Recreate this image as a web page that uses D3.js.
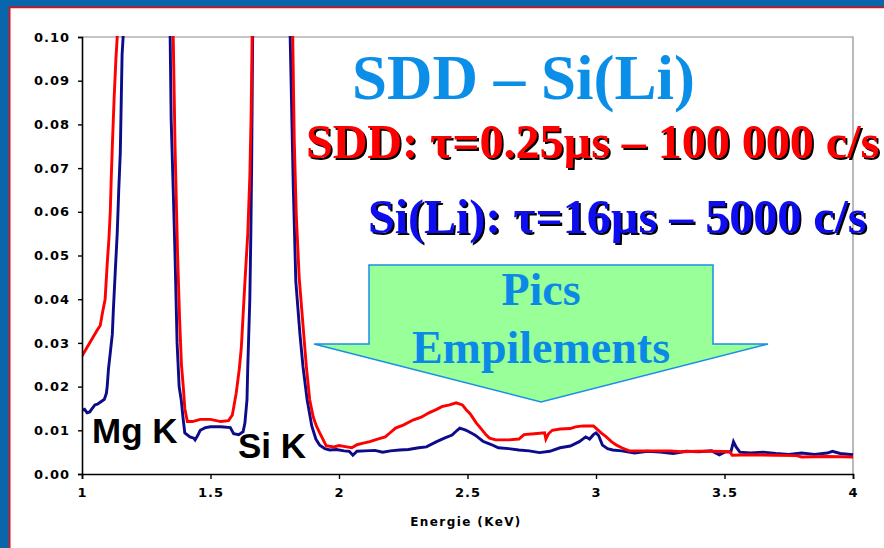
<!DOCTYPE html>
<html>
<head>
<meta charset="utf-8">
<script src="https://cdn.jsdelivr.net/npm/d3@7"></script>
<style>
  body { margin: 0; background: #fff; }
  svg { display: block; }
</style>
</head>
<body>
<div id="chart"></div>
<script>
// SDD spectrum (red), energy in keV / normalised counts
const sddE = [1.000, 1.020, 1.040, 1.060, 1.071, 1.080, 1.090, 1.098, 1.105, 1.110, 1.114, 1.118, 1.125, 1.132, 1.137,
  1.200, 1.250, 1.300, 1.355, 1.362, 1.368, 1.372, 1.380, 1.387, 1.394, 1.400, 1.410, 1.430, 1.460, 1.500, 1.540, 1.570,
  1.585, 1.600, 1.612, 1.620, 1.634, 1.645, 1.653, 1.658, 1.662, 1.740, 1.820, 1.826, 1.834, 1.845, 1.860, 1.873, 1.886,
  1.900, 1.912, 1.925, 1.950, 1.980, 2.000, 2.030, 2.050, 2.070, 2.090, 2.120, 2.150, 2.180, 2.200, 2.220, 2.250, 2.290,
  2.320, 2.350, 2.380, 2.400, 2.430, 2.456, 2.480, 2.495, 2.510, 2.534, 2.547, 2.573, 2.586, 2.610, 2.660, 2.700, 2.720,
  2.760, 2.800, 2.805, 2.815, 2.830, 2.860, 2.900, 2.920, 2.950, 2.990, 3.005, 3.020, 3.040, 3.060, 3.080, 3.100, 3.130,
  3.200, 3.290, 3.330, 3.400, 3.450, 3.520, 3.530, 3.600, 3.700, 3.780, 3.800, 3.900, 4.000];
const sddV = [0.027, 0.029, 0.031, 0.033, 0.034, 0.037, 0.040, 0.048, 0.054, 0.060, 0.068, 0.075, 0.086, 0.095, 0.100,
  0.300, 0.400, 0.250, 0.100, 0.075, 0.060, 0.050, 0.035, 0.025, 0.020, 0.015, 0.012, 0.0120, 0.0125, 0.0125, 0.0120, 0.0122,
  0.0135, 0.0185, 0.024, 0.029, 0.044, 0.055, 0.068, 0.082, 0.100, 0.500, 0.100, 0.076, 0.059, 0.045, 0.034, 0.0245, 0.017,
  0.013, 0.011, 0.0094, 0.0065, 0.0062, 0.0065, 0.0062, 0.0060, 0.0067, 0.0070, 0.0074, 0.0080, 0.0085, 0.0095, 0.0105, 0.0112, 0.0124,
  0.0130, 0.0140, 0.0148, 0.0154, 0.0158, 0.0163, 0.0158, 0.0147, 0.0138, 0.0117, 0.0108, 0.0089, 0.0082, 0.0078, 0.0078, 0.0080, 0.0090,
  0.0092, 0.0094, 0.0080, 0.0092, 0.0100, 0.0103, 0.0104, 0.0108, 0.0110, 0.0110, 0.0102, 0.0094, 0.0085, 0.0074, 0.0066, 0.0060, 0.0053,
  0.0053, 0.0053, 0.0051, 0.0052, 0.0052, 0.0051, 0.0043, 0.0044, 0.0043, 0.0042, 0.0039, 0.0040, 0.0039];

// Si(Li) spectrum (navy)
const siliE = [1.000, 1.010, 1.020, 1.030, 1.040, 1.050, 1.060, 1.075, 1.087, 1.095, 1.098, 1.103, 1.110, 1.118, 1.122,
  1.130, 1.137, 1.143, 1.149, 1.156, 1.160, 1.250, 1.343, 1.347, 1.355, 1.362, 1.370, 1.378, 1.386, 1.394, 1.400, 1.420,
  1.435, 1.440, 1.450, 1.460, 1.480, 1.500, 1.540, 1.577, 1.590, 1.610, 1.627, 1.634, 1.642, 1.645, 1.653, 1.657, 1.660,
  1.664, 1.740, 1.810, 1.815, 1.822, 1.832, 1.848, 1.860, 1.876, 1.894, 1.910, 1.925, 1.945, 1.964, 1.990, 2.020, 2.040,
  2.054, 2.070, 2.100, 2.140, 2.170, 2.200, 2.236, 2.270, 2.310, 2.340, 2.380, 2.410, 2.440, 2.460, 2.470, 2.485, 2.495,
  2.520, 2.530, 2.560, 2.590, 2.620, 2.660, 2.700, 2.740, 2.780, 2.820, 2.860, 2.900, 2.935, 2.960, 2.975, 2.990, 3.000,
  3.010, 3.025, 3.045, 3.065, 3.100, 3.150, 3.200, 3.250, 3.300, 3.350, 3.400, 3.450, 3.480, 3.500, 3.525, 3.535, 3.545,
  3.560, 3.600, 3.650, 3.700, 3.750, 3.800, 3.850, 3.900, 3.920, 3.950, 4.000];
const siliV = [0.0146, 0.0148, 0.0140, 0.0142, 0.0150, 0.0158, 0.0160, 0.0166, 0.0171, 0.0185, 0.020, 0.024, 0.0277, 0.032, 0.0375,
  0.047, 0.055, 0.065, 0.0735, 0.096, 0.100, 0.350, 0.100, 0.081, 0.065, 0.050, 0.030, 0.020, 0.017, 0.0124, 0.0094, 0.0085,
  0.0082, 0.0078, 0.0088, 0.0100, 0.0106, 0.0108, 0.0108, 0.0106, 0.0092, 0.0090, 0.0097, 0.0117, 0.017, 0.0245, 0.040, 0.055, 0.070,
  0.100, 0.450, 0.100, 0.086, 0.066, 0.044, 0.032, 0.0245, 0.017, 0.011, 0.0080, 0.0066, 0.0058, 0.0055, 0.0056, 0.0053, 0.0052,
  0.0043, 0.0052, 0.0053, 0.0054, 0.0050, 0.0053, 0.0055, 0.0056, 0.0060, 0.0062, 0.0074, 0.0082, 0.0089, 0.0100, 0.0105, 0.0102, 0.0100,
  0.0092, 0.0089, 0.0075, 0.0068, 0.0060, 0.0058, 0.0055, 0.0053, 0.0049, 0.0052, 0.0060, 0.0064, 0.0074, 0.0085, 0.0080, 0.0090, 0.0094,
  0.0088, 0.0066, 0.0058, 0.0055, 0.0053, 0.0048, 0.0052, 0.0050, 0.0047, 0.0052, 0.0051, 0.0053, 0.0044, 0.0050, 0.0051, 0.0074, 0.0062,
  0.0050, 0.0048, 0.0050, 0.0047, 0.0045, 0.0048, 0.0045, 0.0048, 0.0052, 0.0047, 0.0044];

const xTicks = [1, 1.5, 2, 2.5, 3, 3.5, 4];
const yTicks = [0, 0.01, 0.02, 0.03, 0.04, 0.05, 0.06, 0.07, 0.08, 0.09, 0.10];

const width = 884, height = 548;
const plot = { left: 82, right: 853, top: 37, bottom: 474 };

const x = d3.scaleLinear().domain([1, 4]).range([plot.left, plot.right]);
const y = d3.scaleLinear().domain([0, 0.1]).range([plot.bottom, plot.top]);

const svg = d3.select('#chart')
  .append('svg')
  .attr('width', width)
  .attr('height', height);

const defs = svg.append('defs');
const shadow = defs.append('filter').attr('id', 'shadow')
  .attr('x', '-5%').attr('y', '-20%').attr('width', '115%').attr('height', '150%');
shadow.append('feFlood').attr('flood-color', '#000').attr('result', 'ink');
shadow.append('feComposite').attr('in', 'ink').attr('in2', 'SourceAlpha').attr('operator', 'in').attr('result', 'dark');
shadow.append('feOffset').attr('in', 'dark').attr('dx', 2).attr('dy', 2).attr('result', 'off');
const merge = shadow.append('feMerge');
merge.append('feMergeNode').attr('in', 'off');
merge.append('feMergeNode').attr('in', 'SourceGraphic');

// slide frame
svg.append('rect').attr('width', width).attr('height', height).attr('fill', '#fff');
svg.append('rect').attr('x', 0).attr('y', 0).attr('width', width).attr('height', 7).attr('fill', '#0a66aa');
svg.append('rect').attr('x', 0).attr('y', 0).attr('width', 9).attr('height', height).attr('fill', '#0a66aa');
svg.append('line').attr('x1', 9).attr('x2', width).attr('y1', 7.5).attr('y2', 7.5).attr('stroke', '#ff0000').attr('stroke-width', 1.5);
svg.append('line').attr('x1', 9.75).attr('x2', 9.75).attr('y1', 7).attr('y2', height).attr('stroke', '#ff0000').attr('stroke-width', 1.5);

// plot box (top/right grey)
svg.append('path')
  .attr('d', `M${plot.left},${plot.top}H${plot.right}V${plot.bottom}`)
  .attr('fill', 'none').attr('stroke', '#8c8c8c').attr('stroke-width', 1.2);

defs.append('clipPath').attr('id', 'clip')
  .append('rect')
  .attr('x', plot.left).attr('y', plot.top - 1)
  .attr('width', plot.right - plot.left + 1).attr('height', plot.bottom - plot.top);

const line = d3.line()
  .x(d => x(d[0]))
  .y(d => y(d[1]));

const series = [
  { e: siliE, v: siliV, color: '#0c0c8a' },
  { e: sddE, v: sddV, color: '#ff0000' }
];

const lines = svg.append('g').attr('clip-path', 'url(#clip)');
series.forEach(s => {
  lines.append('path')
    .datum(d3.zip(s.e, s.v))
    .attr('fill', 'none')
    .attr('stroke', s.color)
    .attr('stroke-width', 2.9)
    .attr('d', line);
});

// axes
const tickFont = 'DejaVu Sans, Verdana, sans-serif';

const yAxis = svg.append('g')
  .attr('transform', `translate(${plot.left},0)`)
  .call(d3.axisLeft(y).tickValues(yTicks).tickFormat(d3.format('.2f')).tickSize(4).tickPadding(8));
const xAxis = svg.append('g')
  .attr('transform', `translate(0,${plot.bottom})`)
  .call(d3.axisBottom(x).tickValues(xTicks).tickFormat(d => d).tickSize(5).tickPadding(9));

[yAxis, xAxis].forEach(a => {
  a.select('.domain').attr('stroke', '#000').attr('stroke-width', 1.6);
  a.selectAll('.tick line').attr('stroke', '#000').attr('stroke-width', 1.4);
  a.selectAll('.tick text')
    .attr('fill', '#000')
    .style('font-family', tickFont)
    .style('font-weight', 'bold')
    .style('font-size', '13px')
    .style('letter-spacing', '1px');
});

svg.append('text')
  .attr('x', 466).attr('y', 526)
  .attr('text-anchor', 'middle')
  .style('font-family', tickFont)
  .style('font-weight', 'bold')
  .style('font-size', '12px')
  .style('letter-spacing', '1.4px')
  .attr('fill', '#000')
  .text('Energie (KeV)');

// peak labels
const sans = 'Liberation Sans, Arial, sans-serif';
svg.append('text').attr('x', 92).attr('y', 443)
  .style('font-family', sans).style('font-weight', 'bold').style('font-size', '35px')
  .attr('fill', '#000').text('Mg K');
svg.append('text').attr('x', 238).attr('y', 458)
  .style('font-family', sans).style('font-weight', 'bold').style('font-size', '35px')
  .attr('fill', '#000').text('Si K');

// arrow callout
const arrowPts = [[369, 265], [713, 265], [713, 344], [768, 344], [541, 402], [314, 344], [369, 344]];
svg.append('polygon')
  .attr('points', arrowPts.map(p => p.join(',')).join(' '))
  .attr('fill', '#99ff99')
  .attr('stroke', '#1a8ee6')
  .attr('stroke-width', 1.5);

const serif = 'Liberation Serif, Times New Roman, serif';
svg.append('text').attr('x', 541).attr('y', 305).attr('text-anchor', 'middle')
  .style('font-family', serif).style('font-weight', 'bold').style('font-size', '46px')
  .attr('fill', '#0a8ae6').text('Pics');
svg.append('text').attr('x', 541).attr('y', 363).attr('text-anchor', 'middle')
  .style('font-family', serif).style('font-weight', 'bold').style('font-size', '46px')
  .attr('fill', '#0a8ae6').text('Empilements');

// titles
svg.append('text').attr('x', 352).attr('y', 99)
  .style('font-family', serif).style('font-weight', 'bold').style('font-size', '63px')
  .attr('fill', '#0a8ee8').text('SDD – Si(Li)');

function shadowText(tx, ty, str, color) {
  svg.append('text').attr('x', tx).attr('y', ty)
    .attr('filter', 'url(#shadow)')
    .style('font-family', serif).style('font-weight', 'bold').style('font-size', '48px')
    .attr('fill', color).text(str);
}
shadowText(306, 158, 'SDD: τ=0.25µs – 100 000 c/s', '#ff0000');
shadowText(368, 233, 'Si(Li): τ=16µs – 5000 c/s', '#1010f0');
</script>
</body>
</html>
